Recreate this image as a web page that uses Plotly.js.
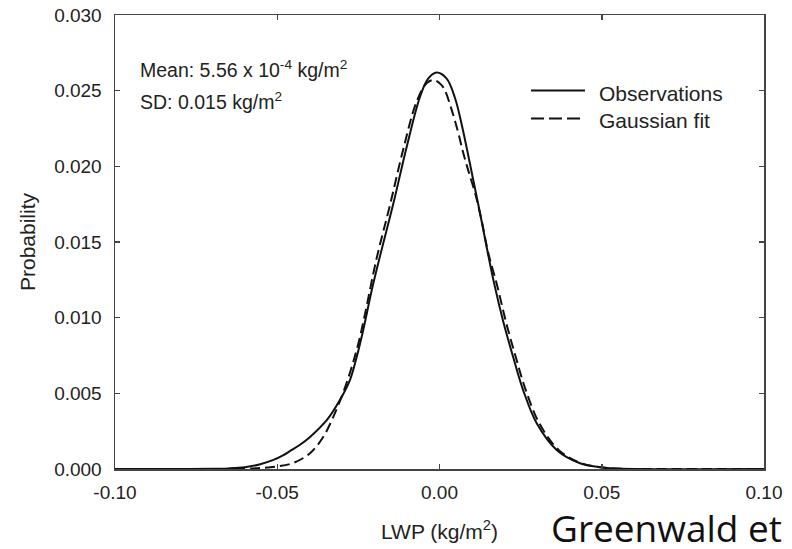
<!DOCTYPE html>
<html>
<head>
<meta charset="utf-8">
<script src="https://cdn.plot.ly/plotly-3.0.1.min.js"></script>
<style>
  html, body { margin: 0; padding: 0; background: #ffffff; }
  #chart { width: 792px; height: 549px; }
</style>
</head>
<body>
<div id="chart"></div>
<script>
// ---- Data ----
const obsX = [-0.100, -0.080, -0.070, -0.065, -0.060, -0.0555, -0.051, -0.0481, -0.0461, -0.0430, -0.0399, -0.0345, -0.0307, -0.0276, -0.0255, -0.0235, -0.0209, -0.0183, -0.0142, -0.0101, -0.0060, -0.0035, -0.0009, 0.0022, 0.0048, 0.0068, 0.0084, 0.0104, 0.0125, 0.0145, 0.0168, 0.0197, 0.0227, 0.0258, 0.0300, 0.0361, 0.0433, 0.0495, 0.055, 0.060, 0.100];
const obsY = [0, 0, 0.00001, 0.00004, 0.00012, 0.0003, 0.00062, 0.00092, 0.00118, 0.0016, 0.00212, 0.0033, 0.00456, 0.00588, 0.00742, 0.00919, 0.0118, 0.0141, 0.01756, 0.0213, 0.0246, 0.0258, 0.0262, 0.0258, 0.0245, 0.0228, 0.0212, 0.0191, 0.0169, 0.0147, 0.0123, 0.0097, 0.0074, 0.0052, 0.0030, 0.00126, 0.00038, 0.00012, 0.00003, 0, 0];

const fitX = [-0.100, -0.070, -0.060, -0.055, -0.050, -0.0451, -0.0399, -0.0358, -0.0327, -0.0296, -0.0271, -0.0250, -0.0230, -0.0194, -0.0153, -0.0112, -0.0070, -0.0039, -0.0017, 0.0005, 0.0017, 0.0038, 0.0058, 0.0073, 0.0089, 0.0110, 0.0130, 0.0150, 0.0178, 0.0205, 0.0235, 0.0266, 0.0308, 0.0367, 0.0437, 0.050, 0.055, 0.060, 0.100];
const fitY = [0, 0, 0.00002, 0.00007, 0.00017, 0.0004, 0.00104, 0.00213, 0.00346, 0.0051, 0.0067, 0.0083, 0.0102, 0.0139, 0.0174, 0.0211, 0.0243, 0.0255, 0.0257, 0.0254, 0.0250, 0.0237, 0.0222, 0.0209, 0.0197, 0.0182, 0.0164, 0.0143, 0.0121, 0.0097, 0.0074, 0.0052, 0.0030, 0.00126, 0.00038, 0.00010, 0.00002, 0, 0];

const seriesNames = ['Observations', 'Gaussian fit'];
const xTickVals = [-0.10, -0.05, 0.00, 0.05, 0.10];
const xTickText = ['-0.10', '-0.05', '0.00', '0.05', '0.10'];
const yTickVals = [0.000, 0.005, 0.010, 0.015, 0.020, 0.025, 0.030];
const yTickText = ['0.000', '0.005', '0.010', '0.015', '0.020', '0.025', '0.030'];
const statsText = ['Mean: 5.56 x 10<sup>-4</sup> kg/m<sup>2</sup>', 'SD: 0.015 kg/m<sup>2</sup>'];
const xTitle = 'LWP (kg/m<sup>2</sup>)';
const yTitle = 'Probability';
const creditText = 'Greenwald et';

// ---- Layout geometry (pixels) ----
const W = 792, H = 549;
const L = 115, R = 764, T = 15, B = 469;
const px = x => (x - L) / (R - L);
const py = y => (B - y) / (B - T);

const lineColor = '#111111';
const axisColor = '#454545';
const textColor = '#222222';
const font = 'Liberation Sans, Arial, Helvetica, sans-serif';

const traces = [
  {
    x: obsX, y: obsY, name: seriesNames[0], type: 'scatter', mode: 'lines',
    line: { color: lineColor, width: 2, shape: 'spline', smoothing: 1 },
    showlegend: false
  },
  {
    x: fitX, y: fitY, name: seriesNames[1], type: 'scatter', mode: 'lines',
    line: { color: lineColor, width: 2, dash: '10px,5px', shape: 'spline', smoothing: 1 },
    showlegend: false
  }
];

const axisCommon = {
  showgrid: false, zeroline: false,
  showline: true, linecolor: axisColor, linewidth: 1.5,
  mirror: 'allticks', ticks: 'inside', ticklen: 5, tickwidth: 1.5, tickcolor: axisColor,
  tickfont: { family: font, size: 19, color: textColor },
  fixedrange: true
};

const layout = {
  width: W, height: H,
  margin: { l: L, r: W - R, t: T, b: H - B, pad: 0 },
  paper_bgcolor: '#ffffff', plot_bgcolor: '#ffffff',
  showlegend: false,
  xaxis: Object.assign({}, axisCommon, {
    range: [-0.10, 0.10], tickmode: 'array', tickvals: xTickVals, ticktext: xTickText,
    ticklabelstandoff: 6,
    title: { text: xTitle, font: { family: font, size: 21, color: textColor }, standoff: 22 }
  }),
  yaxis: Object.assign({}, axisCommon, {
    range: [0, 0.030], tickmode: 'array', tickvals: yTickVals, ticktext: yTickText,
    ticklabelstandoff: 8,
    title: { text: yTitle, font: { family: font, size: 21, color: textColor }, standoff: 13 }
  }),
  shapes: [
    { type: 'line', xref: 'paper', yref: 'paper', x0: px(531), x1: px(585), y0: py(90.5), y1: py(90.5),
      line: { color: lineColor, width: 2 } },
    { type: 'line', xref: 'paper', yref: 'paper', x0: px(531), x1: px(585), y0: py(118.5), y1: py(118.5),
      line: { color: lineColor, width: 2, dash: '13px,5px' } }
  ],
  annotations: [
    { text: statsText[0], xref: 'paper', yref: 'paper', x: px(138), y: py(69), xanchor: 'left', yanchor: 'middle',
      showarrow: false, font: { family: font, size: 19.5, color: textColor } },
    { text: statsText[1], xref: 'paper', yref: 'paper', x: px(138), y: py(101), xanchor: 'left', yanchor: 'middle',
      showarrow: false, font: { family: font, size: 19.5, color: textColor } },
    { text: seriesNames[0], xref: 'paper', yref: 'paper', x: px(597), y: py(93), xanchor: 'left', yanchor: 'middle',
      showarrow: false, font: { family: font, size: 21, color: textColor } },
    { text: seriesNames[1], xref: 'paper', yref: 'paper', x: px(597), y: py(120), xanchor: 'left', yanchor: 'middle',
      showarrow: false, font: { family: font, size: 21, color: textColor } },
    { text: creditText, xref: 'paper', yref: 'paper', x: px(549), y: py(527), xanchor: 'left', yanchor: 'middle',
      showarrow: false, font: { family: 'Open Sans, Noto Sans, sans-serif', size: 37, color: '#111111' } }
  ]
};

Plotly.newPlot('chart', traces, layout, { displayModeBar: false, staticPlot: true });
</script>
</body>
</html>
